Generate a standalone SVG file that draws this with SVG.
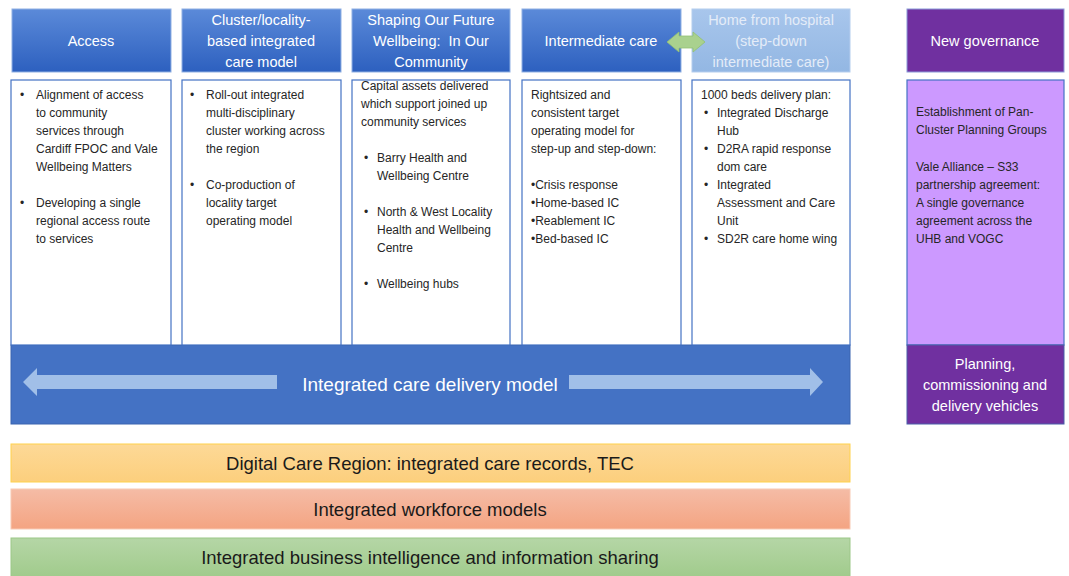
<svg xmlns="http://www.w3.org/2000/svg" width="1069" height="576" viewBox="0 0 1069 576">
<style>
text{font-family:"Liberation Sans",Arial,sans-serif}
.hd{font-size:14.5px;fill:#ffffff;text-anchor:middle}
.hdl{font-size:14.5px;fill:#e4ecf8;text-anchor:middle}
.bd{font-size:12px;fill:#262626}
.gv{font-size:12px;fill:#262626}
.bar{font-size:18.5px;fill:#1a1a1a;text-anchor:middle}
.box{fill:#ffffff;stroke:#4472c4;stroke-width:1.2}
.hbox{fill:url(#gBlue);stroke:#8fb0e3;stroke-width:1}
</style>
<defs>
<linearGradient id="gBlue" x1="0" y1="0" x2="0" y2="1"><stop offset="0" stop-color="#5b8ad9"/><stop offset="1" stop-color="#2d60bf"/></linearGradient>
<linearGradient id="gLBlue" x1="0" y1="0" x2="0" y2="1"><stop offset="0" stop-color="#a8c6ec"/><stop offset="1" stop-color="#93b7e3"/></linearGradient>
<linearGradient id="gOr" x1="0" y1="0" x2="0" y2="1"><stop offset="0" stop-color="#fdd997"/><stop offset="1" stop-color="#fccf7d"/></linearGradient>
<linearGradient id="gSal" x1="0" y1="0" x2="0" y2="1"><stop offset="0" stop-color="#f5bca6"/><stop offset="1" stop-color="#f4a482"/></linearGradient>
<linearGradient id="gGr" x1="0" y1="0" x2="0" y2="1"><stop offset="0" stop-color="#b5d6a6"/><stop offset="1" stop-color="#9fca8a"/></linearGradient>
</defs>

<g id="band">
<rect x="11" y="345" width="839" height="79" fill="#4472c4" stroke="#3a64b0" stroke-width="1"/>
<polygon points="23,382 37,368 37,375 277,375 277,389 37,389 37,396" fill="#a9c5ea" opacity="0.92"/>
<polygon points="823,382 810,368 810,375 569,375 569,389 810,389 810,396" fill="#a9c5ea" opacity="0.92"/>
<text x="430" y="391" font-size="19" fill="#ffffff" text-anchor="middle">Integrated care delivery model</text>
</g>

<g id="access">
<rect class="hbox" x="12" y="9" width="159" height="63"/>
<text class="hd" x="91" y="46">Access</text>
<rect class="box" x="11" y="80" width="160" height="265"/>
<g class="bd">
<text x="20" y="99">•</text>
<text x="36" y="99">Alignment of access</text>
<text x="36" y="117">to community</text>
<text x="36" y="135">services through</text>
<text x="36" y="153">Cardiff FPOC and Vale</text>
<text x="36" y="171">Wellbeing Matters</text>
<text x="20" y="207">•</text>
<text x="36" y="207">Developing a single</text>
<text x="36" y="225">regional access route</text>
<text x="36" y="243">to services</text>
</g>
</g>

<g id="cluster">
<rect class="hbox" x="182" y="9" width="159" height="63"/>
<text class="hd" x="261" y="25">Cluster/locality-</text>
<text class="hd" x="261" y="46">based integrated</text>
<text class="hd" x="261" y="67">care model</text>
<rect class="box" x="182" y="80" width="159" height="265"/>
<g class="bd">
<text x="190" y="99">•</text>
<text x="206" y="99">Roll-out integrated</text>
<text x="206" y="117">multi-disciplinary</text>
<text x="206" y="135">cluster working across</text>
<text x="206" y="153">the region</text>
<text x="190" y="189">•</text>
<text x="206" y="189">Co-production of</text>
<text x="206" y="207">locality target</text>
<text x="206" y="225">operating model</text>
</g>
</g>

<g id="shaping">
<rect class="hbox" x="352" y="9" width="158" height="63"/>
<text class="hd" x="431" y="25">Shaping Our Future</text>
<text class="hd" x="431" y="46" xml:space="preserve">Wellbeing:  In Our</text>
<text class="hd" x="431" y="67">Community</text>
<rect class="box" x="352" y="80" width="158" height="265"/>
<g class="bd">
<text x="361" y="90">Capital assets delivered</text>
<text x="361" y="108">which support joined up</text>
<text x="361" y="126">community services</text>
<text x="364" y="162">•</text>
<text x="377" y="162">Barry Health and</text>
<text x="377" y="180">Wellbeing Centre</text>
<text x="364" y="216">•</text>
<text x="377" y="216">North &amp; West Locality</text>
<text x="377" y="234">Health and Wellbeing</text>
<text x="377" y="252">Centre</text>
<text x="364" y="288">•</text>
<text x="377" y="288">Wellbeing hubs</text>
</g>
</g>

<g id="intermediate">
<rect class="hbox" x="522" y="9" width="159" height="63"/>
<text class="hd" x="601" y="46">Intermediate care</text>
<rect class="box" x="522" y="80" width="159" height="265"/>
<g class="bd">
<text x="531" y="99">Rightsized and</text>
<text x="531" y="117">consistent target</text>
<text x="531" y="135">operating model for</text>
<text x="531" y="153">step-up and step-down:</text>
<text x="531" y="189">•Crisis response</text>
<text x="531" y="207">•Home-based IC</text>
<text x="531" y="225">•Reablement IC</text>
<text x="531" y="243">•Bed-based IC</text>
</g>
</g>

<g id="home">
<rect x="692" y="9" width="158" height="63" fill="url(#gLBlue)" stroke="#b4cdee" stroke-width="1"/>
<text class="hdl" x="771" y="25">Home from hospital</text>
<text class="hdl" x="771" y="46">(step-down</text>
<text class="hdl" x="771" y="67">intermediate care)</text>
<rect class="box" x="692" y="80" width="158" height="265"/>
<g class="bd">
<text x="701" y="99">1000 beds delivery plan:</text>
<text x="704" y="117">•</text>
<text x="717" y="117">Integrated Discharge</text>
<text x="717" y="135">Hub</text>
<text x="704" y="153">•</text>
<text x="717" y="153">D2RA rapid response</text>
<text x="717" y="171">dom care</text>
<text x="704" y="189">•</text>
<text x="717" y="189">Integrated</text>
<text x="717" y="207">Assessment and Care</text>
<text x="717" y="225">Unit</text>
<text x="704" y="243">•</text>
<text x="717" y="243">SD2R care home wing</text>
</g>
</g>

<g id="connectors">
<polygon points="667,42 679,32 679,36 693,36 693,32 705,42 693,52 693,48 679,48 679,52" fill="#a9d18e" stroke="#92c074" stroke-width="0.8"/>
</g>

<g id="governance">
<rect x="907" y="9" width="157" height="63" fill="#7030a0" stroke="#8a9ad8" stroke-width="1"/>
<text class="hd" x="985" y="46">New governance</text>
<rect x="907" y="80" width="157" height="265" fill="#cc99ff" stroke="#4472c4" stroke-width="1.2"/>
<g class="gv">
<text x="916" y="116">Establishment of Pan-</text>
<text x="916" y="134">Cluster Planning Groups</text>
<text x="916" y="171">Vale Alliance – S33</text>
<text x="916" y="189">partnership agreement:</text>
<text x="916" y="207">A single governance</text>
<text x="916" y="225">agreement across the</text>
<text x="916" y="243">UHB and VOGC</text>
</g>
<rect x="907" y="345" width="157" height="79" fill="#7030a0" stroke="#4a5fa8" stroke-width="1"/>
<text class="hd" x="985" y="369" fill="#f3e6ff">Planning,</text>
<text class="hd" x="985" y="390" fill="#f3e6ff">commissioning and</text>
<text class="hd" x="985" y="411" fill="#f3e6ff">delivery vehicles</text>
</g>

<g id="digital">
<rect x="11" y="444" width="839" height="38" fill="url(#gOr)" stroke="#ffd24d" stroke-width="1"/>
<text class="bar" x="430" y="470">Digital Care Region: integrated care records, TEC</text>
</g>
<g id="workforce">
<rect x="11" y="489" width="839" height="40" fill="url(#gSal)" stroke="#f8c9b4" stroke-width="1"/>
<text class="bar" x="430" y="516">Integrated workforce models</text>
</g>
<g id="bi">
<rect x="11" y="538" width="839" height="42" fill="url(#gGr)" stroke="#9cc788" stroke-width="1"/>
<text class="bar" x="430" y="564">Integrated business intelligence and information sharing</text>
</g>
</svg>
